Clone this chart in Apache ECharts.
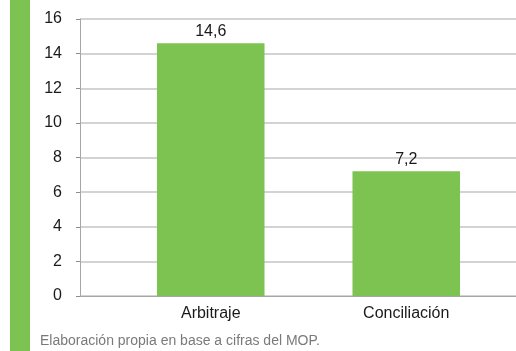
<!DOCTYPE html>
<html>
<head>
<meta charset="utf-8">
<script src="https://cdn.jsdelivr.net/npm/echarts@6/dist/echarts.min.js"></script>
<style>
  html, body { margin: 0; padding: 0; background: #fff; }
  #chart { width: 516px; height: 351px; }
</style>
</head>
<body>
<div id="chart"></div>
<script>
const categories = ['Arbitraje', 'Conciliación'];
const values = [14.6, 7.2];
const yTicks = [0, 2, 4, 6, 8, 10, 12, 14, 16];
const sourceNote = 'Elaboración propia en base a cifras del MOP.';

const font = "'Liberation Sans Narrow', 'Liberation Sans', Arial, sans-serif";
const green = '#7cc352';

const myChart = echarts.init(document.getElementById('chart'));

// grid 0: eje y y líneas de fondo; grid 1: barras
let option = {
  animation: false,
  grid: [
    { left: 80, right: 0, top: 19, bottom: 55 },
    { left: 113, right: 12, top: 19, bottom: 55 },
  ],
  xAxis: [
    {
      gridIndex: 0,
      type: 'category',
      data: [''],
      axisLine: { show: true, lineStyle: { color: '#a6a6a6', width: 1 } },
      axisTick: { show: false },
      axisLabel: { show: false },
    },
    {
      gridIndex: 1,
      type: 'category',
      data: categories,
      axisLine: { show: false },
      axisTick: { show: false },
      axisLabel: { color: '#1a1a1a', fontFamily: font, fontSize: 16, margin: 10 },
    },
  ],
  yAxis: [
    {
      gridIndex: 0,
      type: 'value',
      min: yTicks[0],
      max: yTicks[yTicks.length - 1],
      interval: 2,
      axisLine: { show: true, lineStyle: { color: '#a6a6a6', width: 1 } },
      axisTick: { show: true, length: 4, lineStyle: { color: '#8c8c8c' } },
      axisLabel: { color: '#1a1a1a', fontFamily: font, fontSize: 16, margin: 18 },
      splitLine: { lineStyle: { color: '#c4c4c4', width: 1.5 } },
    },
    {
      gridIndex: 1,
      type: 'value',
      min: yTicks[0],
      max: yTicks[yTicks.length - 1],
      interval: 2,
      show: false,
    },
  ],
  series: [
    {
      type: 'bar',
      xAxisIndex: 1,
      yAxisIndex: 1,
      data: values,
      barCategoryGap: '45%',
      itemStyle: { color: green },
      label: {
        show: true,
        position: 'top',
        distance: 4,
        color: '#1a1a1a',
        fontFamily: font,
        fontSize: 16,
        formatter: p => String(p.value).replace('.', ','),
      },
    },
  ],
  graphic: [
    {
      type: 'rect',
      shape: { x: 10, y: 0, width: 20, height: 351 },
      style: { fill: green },
      silent: true,
    },
    {
      type: 'text',
      left: 40,
      top: 334,
      style: { text: sourceNote, fill: '#7a7a7a', font: '14px ' + font },
      silent: true,
    },
  ],
};

myChart.setOption(option);
</script>
</body>
</html>
